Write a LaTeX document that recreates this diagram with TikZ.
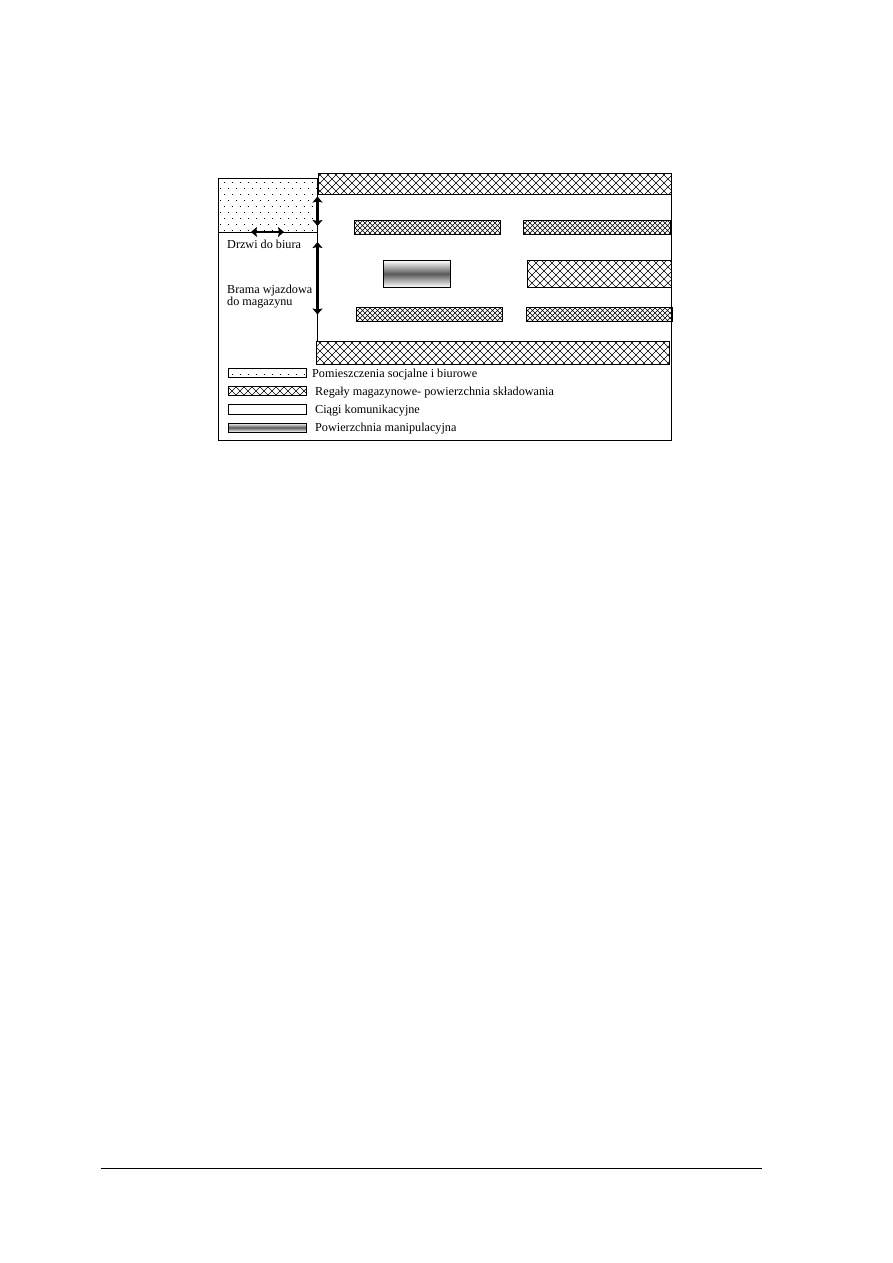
\documentclass[tikz,border=0pt]{standalone}
\usepackage{fontspec}
\setmainfont{Liberation Serif}
\usetikzlibrary{patterns,arrows.meta}

% Wypelnienia: kropki i siatka
\pgfdeclarepatternformonly{kropki}{\pgfqpoint{-1pt}{-1pt}}{\pgfqpoint{9pt}{12pt}}{\pgfqpoint{8pt}{12pt}}{
  \pgfpathrectangle{\pgfqpoint{0pt}{0pt}}{\pgfqpoint{.8pt}{.8pt}}
  \pgfpathrectangle{\pgfqpoint{4pt}{6pt}}{\pgfqpoint{.8pt}{.8pt}}
  \pgfusepath{fill}
}
\pgfdeclarepatternformonly{siatka}{\pgfqpoint{-1pt}{-1pt}}{\pgfqpoint{9pt}{9pt}}{\pgfqpoint{8pt}{8pt}}{
  \pgfsetlinewidth{.45pt}
  \pgfpathmoveto{\pgfqpoint{0pt}{0pt}}\pgfpathlineto{\pgfqpoint{8pt}{8pt}}
  \pgfpathmoveto{\pgfqpoint{0pt}{8pt}}\pgfpathlineto{\pgfqpoint{8pt}{0pt}}
  \pgfusepath{stroke}
}
\pgfdeclarepatternformonly{siatkagesta}{\pgfqpoint{-1pt}{-1pt}}{\pgfqpoint{6pt}{6pt}}{\pgfqpoint{5pt}{5pt}}{
  \pgfsetlinewidth{.45pt}
  \pgfpathmoveto{\pgfqpoint{0pt}{0pt}}\pgfpathlineto{\pgfqpoint{5pt}{5pt}}
  \pgfpathmoveto{\pgfqpoint{0pt}{5pt}}\pgfpathlineto{\pgfqpoint{5pt}{0pt}}
  \pgfusepath{stroke}
}

\tikzset{
  biuro/.style={pattern=kropki},
  regal/.style={draw,line width=.7pt,pattern=siatka},
  regalwaski/.style={draw,line width=.8pt,pattern=siatkagesta},
  ciag/.style={draw,line width=.7pt,fill=white},
  manip/.style={draw,line width=.7pt,top color=white,bottom color=white,middle color=black!65},
  strzalka/.style={{Stealth[length=6pt,width=10pt,inset=1pt]}-{Stealth[length=6pt,width=10pt,inset=1pt]},line width=2.6pt},
  opis/.style={anchor=west,inner sep=0pt,font=\fontsize{12.2}{13}\selectfont},
  linia/.style={line width=.7pt}
}

\begin{document}
\begin{tikzpicture}[x=1pt,y=-1pt]

  \useasboundingbox (0,0) rectangle (893,1263);
  \fill[white] (0,0) rectangle (893,1263);

  % Biuro
  \fill[biuro] (218.5,178.5) rectangle (317.5,232);

  % Sciany
  \draw[linia] (318,178.5) -- (218.5,178.5) -- (218.5,440) -- (671.5,440) -- (671.5,173);
  \draw[linia] (218.5,232) -- (317.5,232);
  \draw[linia] (317.5,178.5) -- (317.5,341);

  % Regaly
  \draw[regal] (318.5,173.5) rectangle (671.5,194);
  \draw[regalwaski] (354.5,220.5) rectangle (500.5,234.5);
  \draw[regalwaski] (523.5,220.5) rectangle (670,234.5);
  \draw[regal] (527.5,260.5) rectangle (671.5,287);
  \draw[regalwaski] (356.5,307) rectangle (502.5,321);
  \draw[regalwaski] (526.5,307) rectangle (672.5,321);
  \draw[regal] (316.5,341.5) rectangle (669,364);

  % Powierzchnia manipulacyjna
  \draw[manip] (383,260.5) rectangle (450.5,287);

  % Strzalki
  \coordinate (drzwiL) at (251,232);
  \coordinate (drzwiP) at (284,232);
  \coordinate (przejscieG) at (317.5,196.5);
  \coordinate (przejscieD) at (317.5,226);
  \coordinate (bramaG) at (317.5,242);
  \coordinate (bramaD) at (317.5,314.5);
  \draw[strzalka] (drzwiL) -- (drzwiP);
  \draw[strzalka] (przejscieG) -- (przejscieD);
  \draw[strzalka] (bramaG) -- (bramaD);

  % Opisy
  \node[opis] (drzwi) at (227,244) {Drzwi do biura};
  \node[opis] (brama) at (227,291) {Brama wjazdowa};
  \node[opis] (magazyn) at (227,303) {do magazynu};

  % Legenda
  \draw[linia,fill=white] (228.5,368.5) rectangle (306.5,377.5);
  \fill[biuro] (228.5,368.5) rectangle (306.5,377.5);
  \draw[regal] (228.5,386.5) rectangle (306.5,395.5);
  \draw[ciag] (228.5,404.5) rectangle (306.5,414);
  \draw[manip] (228.5,423) rectangle (306.5,432);

  \node[opis] (leg1) at (312,375) {Pomieszczenia socjalne i biurowe};
  \node[opis] (leg2) at (315,393) {Regały magazynowe- powierzchnia składowania};
  \node[opis] (leg3) at (315,411) {Ciągi komunikacyjne};
  \node[opis] (leg4) at (315,428.5) {Powierzchnia manipulacyjna};

  % Linia stopki
  \draw[line width=.9pt] (100.5,1168.5) -- (761.5,1168.5);

\end{tikzpicture}
\end{document}
